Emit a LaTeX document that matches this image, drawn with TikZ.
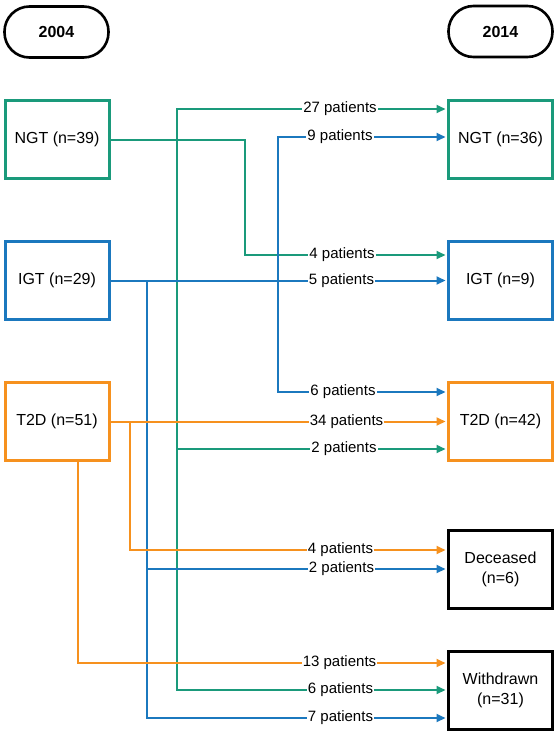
\documentclass[tikz,border=0pt]{standalone}
\usepackage{fontspec}
\setmainfont{Liberation Sans}
\usetikzlibrary{arrows.meta}
\definecolor{cgreen}{RGB}{26,154,123}
\definecolor{cblue}{RGB}{27,120,190}
\definecolor{corange}{RGB}{246,145,30}
\begin{document}
\begin{tikzpicture}[x=1pt,y=-1pt,
 box/.style={draw,line width=3pt,minimum width=104pt,minimum height=78pt,inner sep=0pt,font=\fontsize{16}{20}\selectfont,align=center},
 pill/.style={draw,line width=2.6pt,rounded corners=25pt,minimum width=104pt,minimum height=51pt,font=\bfseries\fontsize{16}{20}\selectfont},
 conn/.style={line width=2pt,shorten >=1.5pt,-{Triangle[length=9pt,width=8pt]}},
 lab/.style={fill=white,inner sep=1pt,font=\fontsize{15}{18}\selectfont,text=black},
]
\useasboundingbox[fill=white] (0,0) rectangle (558,734);
% headers
\node[pill] (p04) at (56.5,32) {2004};
\node[pill] (p14) at (500.5,31.5) {2014};
% left boxes
\node[box,cgreen,text=black] (lngt) at (57,139.5) {NGT (n=39)};
\node[box,cblue,text=black] (ligt) at (57,280.5) {IGT (n=29)};
\node[box,corange,text=black] (lt2d) at (57,421.5) {T2D (n=51)};
% right boxes
\node[box,cgreen,text=black] (rngt) at (500.5,139.5) {NGT (n=36)};
\node[box,cblue,text=black] (rigt) at (500.5,280.5) {IGT (n=9)};
\node[box,corange,text=black] (rt2d) at (500.5,421.5) {T2D (n=42)};
\node[box] (rdec) at (500.5,569.5) {Deceased\\(n=6)};
\node[box] (rwd) at (500.5,690.5) {Withdrawn\\(n=31)};
% green connectors
\draw[conn,cgreen] (lngt.east) -| (245,255) -- (rigt.west |- 0,255) node[lab,at={(342,255)}] {4 patients};
\draw[conn,cgreen] (lngt.east) -| (177,109) -- (rngt.west |- 0,109) node[lab,at={(340,109)}] {27 patients};
\draw[conn,cgreen] (lngt.east) -| (177,449) -- (rt2d.west |- 0,449) node[lab,at={(344,449)}] {2 patients};
\draw[conn,cgreen] (lngt.east) -| (177,690) -- (rwd.west |- 0,690) node[lab,at={(340.5,690)}] {6 patients};
% blue connectors
\draw[conn,cblue] (ligt.east) -- (rigt.west) node[lab,at={(341.5,280.5)}] {5 patients};
\draw[conn,cblue] (ligt.east) -| (278,137) -- (rngt.west |- 0,137) node[lab,at={(340,137)}] {9 patients};
\draw[conn,cblue] (ligt.east) -| (278,392) -- (rt2d.west |- 0,392) node[lab,at={(343,392)}] {6 patients};
\draw[conn,cblue] (ligt.east) -| (147,569) -- (rdec.west |- 0,569) node[lab,at={(341.5,569)}] {2 patients};
\draw[conn,cblue] (ligt.east) -| (147,718) -- (rwd.west |- 0,718) node[lab,at={(340.5,718)}] {7 patients};
% orange connectors
\draw[conn,corange] (lt2d.east) -- (rt2d.west) node[lab,at={(346.5,421.5)}] {34 patients};
\draw[conn,corange] (lt2d.east) -| (130,550) -- (rdec.west |- 0,550) node[lab,at={(340.5,550)}] {4 patients};
\draw[conn,corange] (lt2d.south -| 78,0) |- (rwd.west |- 0,663) node[lab,at={(339.5,663)}] {13 patients};
\end{tikzpicture}
\end{document}
